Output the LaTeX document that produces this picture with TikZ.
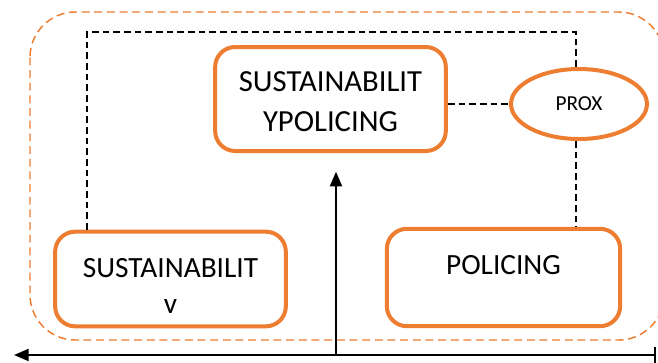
\documentclass[tikz,border=0pt]{standalone}
\usepackage{fontspec}
\setmainfont{Carlito}
\definecolor{boxorange}{RGB}{237, 125, 49}
\usetikzlibrary{shapes, arrows.meta, positioning, calc}
\tikzset{
  topicbox/.style={draw=boxorange, line width=3pt, rounded corners=15pt, align=center, font=\fontsize{23}{30}\selectfont},
  link/.style={draw=black, line width=1.2pt, dash pattern=on 5pt off 3pt},
  axisline/.style={draw=black, line width=1.5pt},
}

\begin{document}
\begin{tikzpicture}[x=0.75pt, y=-0.75pt]
  \useasboundingbox (0,0) rectangle (658,362);
  % outer frame
  \draw[boxorange, line width=1.1pt, dash pattern=on 6pt off 3.5pt, rounded corners=34pt] (30,12) rectangle (664,340);

  % topics
  \node[topicbox, minimum width=173pt, minimum height=78pt] (mid) at (330.5,99) {\rule{0pt}{19pt}SUSTAINABILIT\\YPOLICING};
  \node[topicbox, minimum width=173pt, minimum height=71pt, font=\fontsize{22}{27}\selectfont] (sus) at (170.5,279) {\rule{0pt}{25pt}SUSTAINABILIT\\v};
  \node[topicbox, minimum width=175pt, minimum height=73pt, font=\fontsize{22}{26}\selectfont, text height=15pt, text depth=20pt] (pol) at (503.5,277.5) {POLICING};
  \node[ellipse, draw=boxorange, line width=3pt, minimum width=102pt, minimum height=52.5pt, font=\fontsize{16}{18}\selectfont] (prox) at (579,104) {PROX};

  % dashed links
  \coordinate (tl) at (87,32);
  \coordinate (tr) at (576,32);
  \draw[link] (tl |- sus.north) -- (tl) -- (tr) -- (tr |- prox.north);
  \draw[link] (tr |- prox.south) -- (tr |- pol.north);
  \draw[link] (prox.west -| mid.east) -- (prox.west);

  % axes
  \coordinate (axl) at (14,355);
  \coordinate (axr) at (656,355);
  \coordinate (axm) at (336,355);
  \draw[axisline, {Bar[width=12pt]}-{Triangle[length=11pt, width=9pt]}] (axr) -- (axl);
  \draw[axisline, -{Triangle[length=11pt, width=9pt]}, shorten >=14pt] (axm) -- (axm |- mid.south);
\end{tikzpicture}
\end{document}
